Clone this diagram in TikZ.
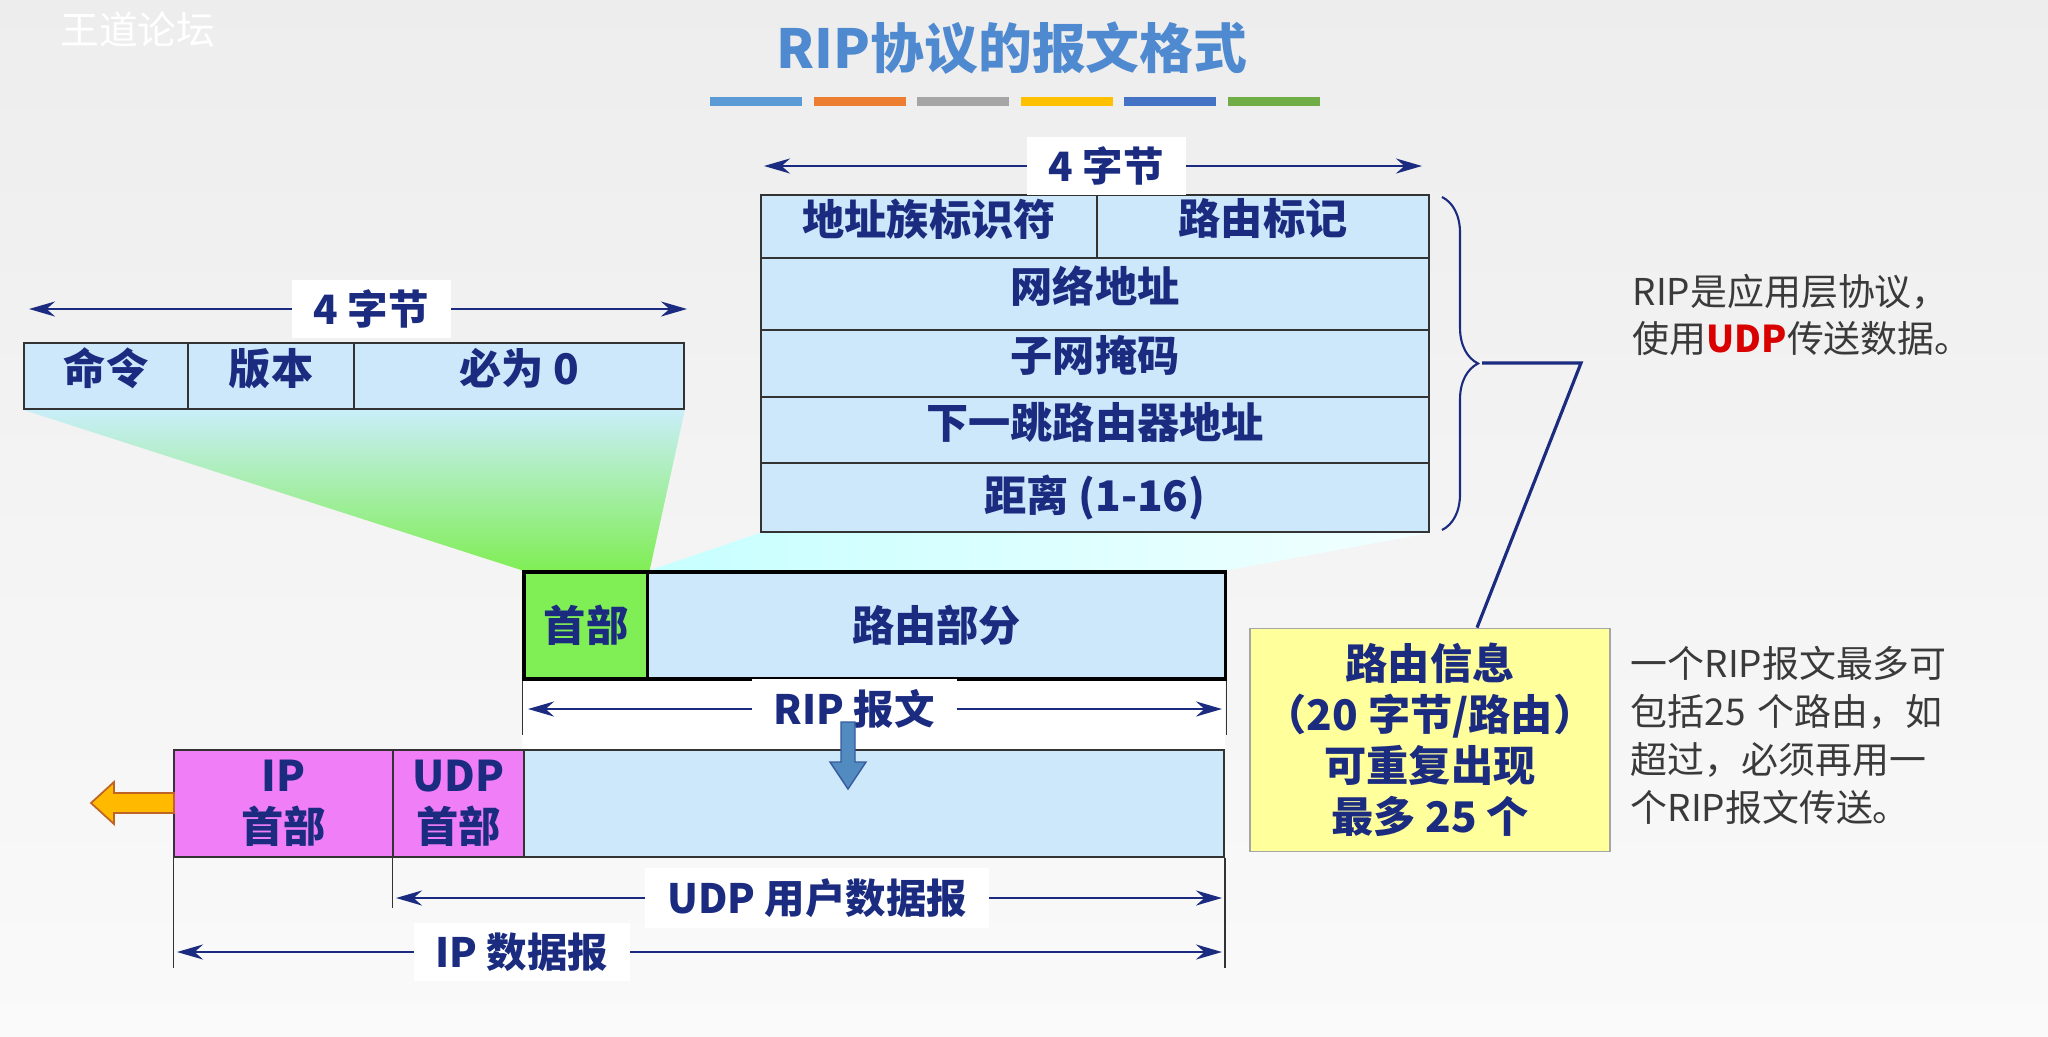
\documentclass[tikz,border=0pt]{standalone}
\usepackage{fontspec}
\setmainfont{Noto Sans CJK SC}
\usepackage{tikz}
\usetikzlibrary{arrows.meta,positioning,calc,backgrounds,decorations.pathreplacing}
\definecolor{Navy}{HTML}{1A2B80}
\definecolor{TitleBlue}{HTML}{4F8AD0}
\definecolor{PaleBlue}{HTML}{CDE8FB}
\definecolor{FanTop}{HTML}{C9EEF9}
\definecolor{Grass}{HTML}{80EE55}
\definecolor{Pink}{HTML}{F07EF7}
\definecolor{Lemon}{HTML}{FFFF9C}
\definecolor{Ink}{HTML}{3A3A3A}
\definecolor{Line}{HTML}{333333}
\definecolor{BarA}{HTML}{5B9BD5}
\definecolor{BarB}{HTML}{ED7D31}
\definecolor{BarC}{HTML}{A5A5A5}
\definecolor{BarD}{HTML}{FFC000}
\definecolor{BarE}{HTML}{4472C4}
\definecolor{BarF}{HTML}{70AD47}
\tikzset{
  field/.style={draw=Line,line width=0.45pt,fill=PaleBlue,inner sep=0pt,
    text=Navy,font=\bfseries\fontsize{12}{14.5}\selectfont,align=center},
  raised/.style={text depth=0.55em},
  fieldgreen/.style={field,fill=Grass},
  fieldpink/.style={field,fill=Pink},
  fieldrip/.style={field,draw=black,line width=0.9pt},
  span/.style={{Stealth[length=2.6mm,width=1.5mm]}-{Stealth[length=2.6mm,width=1.5mm]},
    line width=0.7pt,color=Navy},
  spanlabel/.style={fill=white,text=Navy,font=\bfseries\fontsize{11.5}{13}\selectfont,
    inner xsep=2.2mm,inner ysep=1mm},
  tick/.style={draw=Line,line width=0.3pt},
  note/.style={text=Ink,font=\fontsize{10.5}{13.6}\selectfont,align=left,inner sep=0pt,anchor=north west}
}
\begin{document}
\begin{tikzpicture}[x=0.01cm,y=-0.01cm]
  \useasboundingbox (0,0) rectangle (2048,1036);
  % title and bars
  \node[text=white,font=\fontsize{11}{12}\selectfont,anchor=west] (mark) at (48,30) {王道论坛};
  \node[text=TitleBlue,font=\bfseries\fontsize{15.3}{18}\selectfont] (title) at (1012,48) {RIP协议的报文格式};
  \foreach \c [count=\i from 0] in {BarA,BarB,BarC,BarD,BarE,BarF}
    \fill[\c] ({710+103.6*\i},97) rectangle ++(92,9);

  % RIP header
  \node[field,raised,minimum width=1.64cm,minimum height=0.66cm] (cmd) at (106,376) {命令};
  \node[field,raised,minimum width=1.66cm,minimum height=0.66cm] (ver) at (271,376) {版本};
  \node[field,raised,minimum width=3.30cm,minimum height=0.66cm] (zero) at (519,376) {必为 0};
  \coordinate (hl) at (29,309);
  \coordinate (hr) at (687,309);
  \draw[span] (hl) -- (hr) node[spanlabel,pos=.52] {4 字节};

  % route entry
  \node[field,raised,minimum width=3.36cm,minimum height=0.63cm] (afi) at (929,226.5) {地址族标识符};
  \node[field,raised,minimum width=3.32cm,minimum height=0.63cm] (tag) at (1263,226.5) {路由标记};
  \node[field,raised,minimum width=6.68cm,minimum height=0.72cm] (net) at (1095,294) {网络地址};
  \node[field,raised,minimum width=6.68cm,minimum height=0.67cm] (mask) at (1095,363.5) {子网掩码};
  \node[field,raised,minimum width=6.68cm,minimum height=0.66cm] (hop) at (1095,430) {下一跳路由器地址};
  \node[field,minimum width=6.68cm,minimum height=0.69cm] (dist) at (1095,497.5) {距离 (1-16)};
  \coordinate (tl) at (764,166);
  \coordinate (tr) at (1422,166);
  \draw[span] (tl) -- (tr) node[spanlabel,pos=.52] {4 字节};

  % brace to the info box
  \draw[Navy,line width=0.6pt,decorate,decoration={brace,amplitude=0.36cm}]
    (1442,197) -- (1442,530);
  \coordinate (tip) at (1482,363);
  \coordinate (bend) at (1581,363);
  \node[field,fill=Lemon,draw=gray!70,minimum width=3.6cm,minimum height=2.23cm] (info) at (1430,740)
    {路由信息\\（20 字节/路由）\\可重复出现\\最多 25 个};
  \draw[Navy,line width=0.9pt] (tip) -- (bend) -- ($(info.north west)!0.63!(info.north east)$);

  \node[note] (app) at (1632,273) {RIP是应用层协议，\\使用\textcolor{red!85!black}{\bfseries UDP}传送数据。};
  \node[note,text width=3.4cm] (limit) at (1630,646)
    {一个RIP报文最多可\\包括25 个路由，如\\超过，必须再用一\\个RIP报文传送。};

  % RIP message
  \node[fieldrip,fill=Grass,minimum width=1.24cm,minimum height=1.07cm] (rhdr) at (586,625.5) {首部};
  \node[fieldrip,minimum width=5.77cm,minimum height=1.07cm] (rbody) at (936.5,625.5) {路由部分};
  \draw[tick] (rhdr.south west) -- ++(0,54);
  \draw[tick] (rbody.south east) -- ++(0,54);
  \coordinate (rl) at (528,709);
  \coordinate (rr) at (1222,709);
  \draw[span] (rl) -- (rr) node[spanlabel,pos=.47] {RIP 报文};

  % IP datagram
  \node[fieldpink,minimum width=2.19cm,minimum height=1.07cm] (iphdr) at (283.5,803.5) {IP\\首部};
  \node[fieldpink,minimum width=1.31cm,minimum height=1.07cm] (udphdr) at (458.5,803.5) {UDP\\首部};
  \node[field,minimum width=7.00cm,minimum height=1.07cm] (data) at (874,803.5) {};
  \draw[tick] (udphdr.south west) -- ++(0,50);
  \draw[tick] (iphdr.south west) -- ++(0,110);
  \draw[tick] (data.south east) -- ++(0,110);
  \coordinate (ul) at (396,898);
  \coordinate (ur) at (1222,898);
  \draw[span] (ul) -- (ur) node[spanlabel,pos=.51] {UDP 用户数据报};
  \coordinate (il) at (177,952);
  \coordinate (ir) at (1222,952);
  \draw[span] (il) -- (ir) node[spanlabel,pos=.33] {IP 数据报};

  % block arrows
  \filldraw[fill=BarA!90!black,draw=BarE!80!black,line width=0.4pt]
    (841,722) -- (855,722) -- (855,762) -- (866,762) -- (848,789) -- (830,762) -- (841,762) -- cycle;
  \filldraw[fill=BarD!90!orange,draw=BarB!80!black,line width=0.5pt]
    (174,793) -- (114,793) -- (114,782) -- (91,803) -- (114,824) -- (114,813) -- (174,813) -- cycle;

  % background and fans
  \begin{scope}[on background layer]
    \shade[top color=black!7,bottom color=black!2] (0,0) rectangle (2048,1036);
    \shade[top color=FanTop,bottom color=Grass] (cmd.south west) -- (zero.south east)
      -- (rhdr.north east) -- (rhdr.north west) -- cycle;
    \shade[left color=cyan!22,right color=cyan!5] (afi.south west |- dist.south) -- (dist.south east)
      -- (rbody.north east) -- (rhdr.north east) -- cycle;
    \fill[white] (rhdr.south west) rectangle (data.north east);
  \end{scope}
\end{tikzpicture}
\end{document}
